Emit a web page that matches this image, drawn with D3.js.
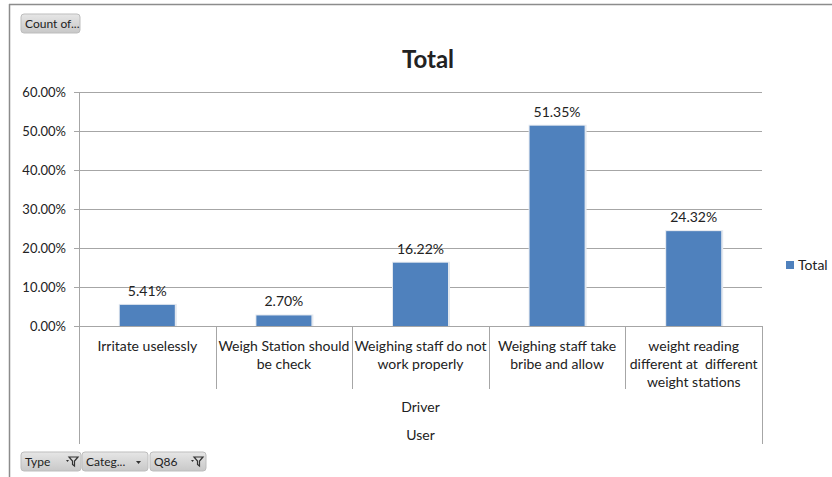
<!DOCTYPE html>
<html>
<head>
<meta charset="utf-8">
<script src="https://cdn.jsdelivr.net/npm/d3@7"></script>
<style>
  html, body { margin: 0; padding: 0; background: #fff; }
  svg { display: block; }
  text { font-family: Lato, "Open Sans", sans-serif; fill: #222; white-space: pre; }
</style>
</head>
<body>
<svg id="chart" width="832" height="477"></svg>
<script>
// Survey answers (Driver / User), share of responses
const categories = [
  ["Irritate uselessly"],
  ["Weigh Station should", "be check"],
  ["Weighing staff do not", "work properly"],
  ["Weighing staff take", "bribe and allow"],
  ["weight reading", "different at  different", "weight stations"]
];
const values = [5.41, 2.70, 16.22, 51.35, 24.32];
const yTicks = [0, 10, 20, 30, 40, 50, 60];
const seriesName = "Total";
const groupLabels = ["Driver", "User"];
const topButtons = ["Count of..."];
const bottomButtons = [
  { label: "Type", icon: "filter" },
  { label: "Categ...", icon: "arrow" },
  { label: "Q86", icon: "filter" }
];

const svg = d3.select("#chart");
const barColor = "#4F81BD";
const gridColor = "#a6a6a6";
const fs = 14;

const plot = { left: 79, right: 762, top: 92, bottom: 326 };

const x = d3.scaleBand()
  .domain(d3.range(values.length))
  .range([plot.left, plot.right])
  .paddingInner(0)
  .paddingOuter(0);

const y = d3.scaleLinear().domain([0, 60]).range([plot.bottom, plot.top]);

// Outer frame (top and left edges)
svg.append("line").attr("x1", 9).attr("x2", 832).attr("y1", 4.5).attr("y2", 4.5)
  .attr("stroke", "#8c8c8c").attr("stroke-width", 1.5);
svg.append("line").attr("x1", 9.5).attr("x2", 9.5).attr("y1", 4).attr("y2", 477)
  .attr("stroke", "#8c8c8c").attr("stroke-width", 1.5);

// Gridlines
svg.append("g")
  .selectAll("line")
  .data(yTicks)
  .join("line")
  .attr("x1", plot.left - 5)
  .attr("x2", plot.right)
  .attr("y1", d => Math.round(y(d)) + 0.5)
  .attr("y2", d => Math.round(y(d)) + 0.5)
  .attr("stroke", gridColor);

// Y tick labels
const yAxis = d3.axisLeft(y).tickValues(yTicks).tickFormat(d => d3.format(".2f")(d) + "%").tickSize(0).tickPadding(0);
const yG = svg.append("g").attr("transform", `translate(${plot.left - 13},0)`).call(yAxis);
yG.select(".domain").remove();
yG.selectAll("text").attr("font-size", 13).attr("fill", "#222")
  .style("font-family", "Lato, 'Open Sans', sans-serif");

// Left axis line, extends through the category rows
svg.append("line").attr("x1", plot.left + 0.5).attr("x2", plot.left + 0.5)
  .attr("y1", plot.top).attr("y2", 444).attr("stroke", gridColor);
// Right edge of category area
svg.append("line").attr("x1", plot.right + 0.5).attr("x2", plot.right + 0.5)
  .attr("y1", plot.bottom).attr("y2", 444).attr("stroke", gridColor);

// Category separators
svg.append("g")
  .selectAll("line")
  .data(d3.range(1, values.length))
  .join("line")
  .attr("x1", d => Math.round(x(d)) + 0.5)
  .attr("x2", d => Math.round(x(d)) + 0.5)
  .attr("y1", plot.bottom)
  .attr("y2", 389)
  .attr("stroke", gridColor);

// Bars
const barW = 55;
const bars = svg.append("g");
bars.selectAll("rect.shadow")
  .data(values)
  .join("rect")
  .attr("class", "shadow")
  .attr("x", (d, i) => x(i) + x.bandwidth() / 2 - barW / 2 - 1)
  .attr("y", d => y(d) - 1)
  .attr("width", barW + 3)
  .attr("height", d => y(0) - y(d) + 1)
  .attr("fill", "#e3e8ef");
bars.selectAll("rect.bar")
  .data(values)
  .join("rect")
  .attr("class", "bar")
  .attr("x", (d, i) => x(i) + x.bandwidth() / 2 - barW / 2)
  .attr("y", d => y(d))
  .attr("width", barW)
  .attr("height", d => y(0) - y(d))
  .attr("fill", barColor);

// Value labels
svg.append("g")
  .selectAll("text")
  .data(values)
  .join("text")
  .attr("x", (d, i) => x(i) + x.bandwidth() / 2)
  .attr("y", d => y(d) - 9)
  .attr("text-anchor", "middle")
  .attr("font-size", fs)
  .text(d => d3.format(".2f")(d) + "%");

// Category labels
const catG = svg.append("g");
categories.forEach((lines, i) => {
  const t = catG.append("text")
    .attr("x", x(i) + x.bandwidth() / 2)
    .attr("y", 351)
    .attr("text-anchor", "middle")
    .attr("font-size", fs);
  lines.forEach((ln, j) => {
    t.append("tspan")
      .attr("x", x(i) + x.bandwidth() / 2)
      .attr("y", 351 + j * 18)
      .text(ln);
  });
});

// Group labels
groupLabels.forEach((g, k) => {
  svg.append("text")
    .attr("x", (plot.left + plot.right) / 2)
    .attr("y", 412 + k * 28)
    .attr("text-anchor", "middle")
    .attr("font-size", fs)
    .text(g);
});

// Title
svg.append("text")
  .attr("x", 428)
  .attr("y", 68)
  .attr("text-anchor", "middle")
  .attr("font-size", 24)
  .attr("font-weight", "bold")
  .attr("fill", "#000")
  .text("Total");

// Legend
svg.append("rect").attr("x", 786).attr("y", 261).attr("width", 8).attr("height", 8).attr("fill", barColor);
svg.append("text").attr("x", 798).attr("y", 270).attr("font-size", fs).text(seriesName);

// Field buttons
const defs = svg.append("defs");
const grad = defs.append("linearGradient").attr("id", "btn").attr("x1", 0).attr("x2", 0).attr("y1", 0).attr("y2", 1);
grad.append("stop").attr("offset", "0%").attr("stop-color", "#e6e6e6");
grad.append("stop").attr("offset", "100%").attr("stop-color", "#c8c8c8");

function button(xp, yp, w, label, icon) {
  const g = svg.append("g").attr("transform", `translate(${xp},${yp})`);
  g.append("rect").attr("width", w).attr("height", 19).attr("rx", 3)
    .attr("fill", "url(#btn)").attr("stroke", "#bdbdbd");
  g.append("text").attr("x", 4).attr("y", 14).attr("font-size", 12).attr("fill", "#333").text(label);
  if (icon === "filter") {
    g.append("path").attr("d", `M${w - 15},8 l3,0 l-1.5,2 z`).attr("fill", "#333");
    g.append("path").attr("d", `M${w - 12},5 l9,0 l-3.5,4 l0,5 l-2,-1.5 l0,-3.5 z`)
      .attr("fill", "none").attr("stroke", "#333").attr("stroke-width", 1.2);
  } else if (icon === "arrow") {
    g.append("path").attr("d", `M${w - 12},9 l5,0 l-2.5,3 z`).attr("fill", "#333");
  }
}
button(21, 14, 59, topButtons[0], null);
button(21, 452, 60, bottomButtons[0].label, bottomButtons[0].icon);
button(82, 452, 66, bottomButtons[1].label, bottomButtons[1].icon);
button(150, 452, 56, bottomButtons[2].label, bottomButtons[2].icon);
</script>
</body>
</html>
